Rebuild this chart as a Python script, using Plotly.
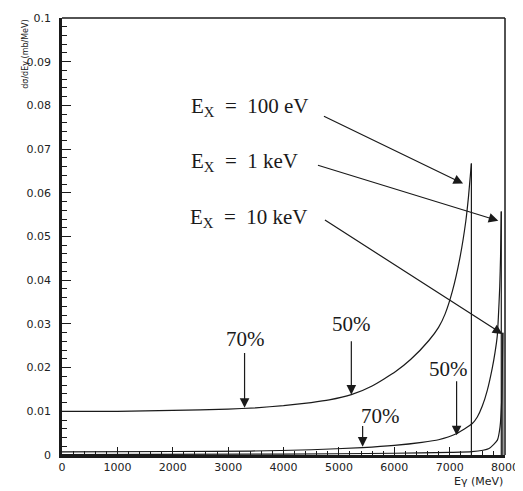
import plotly.graph_objects as go

# Curve E_X = 100 eV
e1 = [0, 1000, 2000, 3000, 3500, 4000, 4500, 4825, 5225, 5600, 6025, 6300, 6625, 6800, 6919, 7050, 7184, 7292, 7340, 7393, 7393]
v1 = [0.0100, 0.0100, 0.0102, 0.0105, 0.0108, 0.0113, 0.0120, 0.0126, 0.0138, 0.0158, 0.0191, 0.0219, 0.0262, 0.0292, 0.0323, 0.0375, 0.0450, 0.0535, 0.0590, 0.0667, 0.0]

# Curve E_X = 1 keV
e2 = [0, 2000, 3400, 4500, 5425, 6000, 6500, 6800, 7110, 7410, 7500, 7590, 7680, 7770, 7820, 7860, 7880, 7905, 7920, 7933, 7933]
v2 = [0.0007, 0.0008, 0.0009, 0.0012, 0.0017, 0.0022, 0.0029, 0.0035, 0.0048, 0.0072, 0.0087, 0.0112, 0.0148, 0.0199, 0.0235, 0.0272, 0.0315, 0.0385, 0.0455, 0.0557, 0.0]

# Curve E_X = 10 keV
e3 = [0, 4000, 6000, 7000, 7400, 7712, 7862, 7910, 7940, 7952, 7961, 7961]
v3 = [0.0001, 0.0002, 0.0004, 0.0006, 0.00075, 0.0015, 0.0034, 0.0064, 0.0124, 0.0200, 0.0280, 0.0]

# Labels
ex_labels = ["E<sub>X</sub>&nbsp;&nbsp;=&nbsp;&nbsp;100 eV",
             "E<sub>X</sub>&nbsp;&nbsp;=&nbsp;&nbsp;1 keV",
             "E<sub>X</sub>&nbsp;&nbsp;=&nbsp;&nbsp;10 keV"]
ex_label_pos = [(4505, 0.0797), (4306, 0.0671), (4486, 0.0542)]
ex_arrows = [((4703, 0.0777), (7243, 0.0621)),
             ((4595, 0.0664), (7879, 0.0536)),
             ((4721, 0.0540), (7951, 0.0277))]

pct_labels = ["70%", "50%", "50%", "70%"]
pct_label_pos = [(3315, 0.0266), (5225, 0.0300), (6973, 0.0196), (5748, 0.0090)]
pct_arrows = [((3297, 0.0237), (3297, 0.0108)),
              ((5225, 0.0264), (5225, 0.0138)),
              ((7126, 0.0172), (7126, 0.0045)),
              ((5429, 0.0070), (5429, 0.0019))]

fig = go.Figure()
for e, v in [(e1, v1), (e2, v2), (e3, v3)]:
    # smooth rising part
    fig.add_trace(go.Scatter(x=e[:-1], y=v[:-1], mode="lines",
                             line=dict(color="#1a1a1a", width=1.2, shape="spline", smoothing=0.5),
                             showlegend=False, hoverinfo="skip"))
    # vertical drop at the end point
    fig.add_trace(go.Scatter(x=e[-2:], y=v[-2:], mode="lines",
                             line=dict(color="#1a1a1a", width=1.2),
                             showlegend=False, hoverinfo="skip"))

serif = dict(family="Liberation Serif", size=21, color="#1a1a1a")
ann = []
for txt, (x, y) in zip(ex_labels, ex_label_pos):
    ann.append(dict(x=x, y=y, xref="x", yref="y", text=txt, showarrow=False,
                    xanchor="right", yanchor="middle", font=serif))
for txt, (x, y) in zip(pct_labels, pct_label_pos):
    ann.append(dict(x=x, y=y, xref="x", yref="y", text=txt, showarrow=False,
                    xanchor="center", yanchor="middle", font=serif))
for (tail, tip) in ex_arrows + pct_arrows:
    ann.append(dict(x=tip[0], y=tip[1], ax=tail[0], ay=tail[1],
                    xref="x", yref="y", axref="x", ayref="y", text="",
                    showarrow=True, arrowhead=2, arrowsize=1.6,
                    arrowwidth=1.2, arrowcolor="#1a1a1a", standoff=0))

# axis titles
ann.append(dict(x=-0.083, y=1.0, xref="paper", yref="paper",
                text="dσ/dEγ (mb/MeV)", textangle=-90, showarrow=False,
                xanchor="center", yanchor="top",
                font=dict(family="DejaVu Sans", size=8, color="#222")))
ann.append(dict(x=1.0, y=-0.061, xref="paper", yref="paper",
                text="Eγ (MeV)", showarrow=False,
                xanchor="right", yanchor="middle",
                font=dict(family="DejaVu Sans", size=11, color="#222")))

fig.update_layout(
    width=515, height=483,
    margin=dict(l=54, r=17, t=4, b=36),
    plot_bgcolor="white", paper_bgcolor="white",
    annotations=ann,
    shapes=[
        dict(type="line", xref="paper", yref="paper", x0=0, x1=1, y0=1, y1=1,
             line=dict(color="#1a1a1a", width=1.5)),
        dict(type="line", xref="paper", yref="paper", x0=1, x1=1, y0=0, y1=1,
             line=dict(color="#1a1a1a", width=1.5)),
    ],
)
fig.update_xaxes(range=[0, 8000], dtick=1000, tick0=0, showgrid=False, zeroline=False,
                 showline=True, linecolor="#1a1a1a", linewidth=2.5,
                 ticks="inside", ticklen=8, tickwidth=1.2, tickcolor="#1a1a1a",
                 ticklabeloverflow="allow",
                 minor=dict(dtick=200, ticks="inside", ticklen=4, tickwidth=1, tickcolor="#1a1a1a"),
                 tickfont=dict(family="DejaVu Sans", size=11, color="#222"))
fig.update_yaxes(range=[0, 0.1], dtick=0.01, tick0=0, showgrid=False, zeroline=False,
                 showline=True, linecolor="#1a1a1a", linewidth=2.5,
                 ticks="inside", ticklen=9, tickwidth=1.2, tickcolor="#1a1a1a",
                 ticklabelstandoff=6, ticklabeloverflow="allow",
                 minor=dict(dtick=0.002, ticks="inside", ticklen=5, tickwidth=1, tickcolor="#1a1a1a"),
                 tickfont=dict(family="DejaVu Sans", size=11, color="#222"))

fig.write_html("out.html")
